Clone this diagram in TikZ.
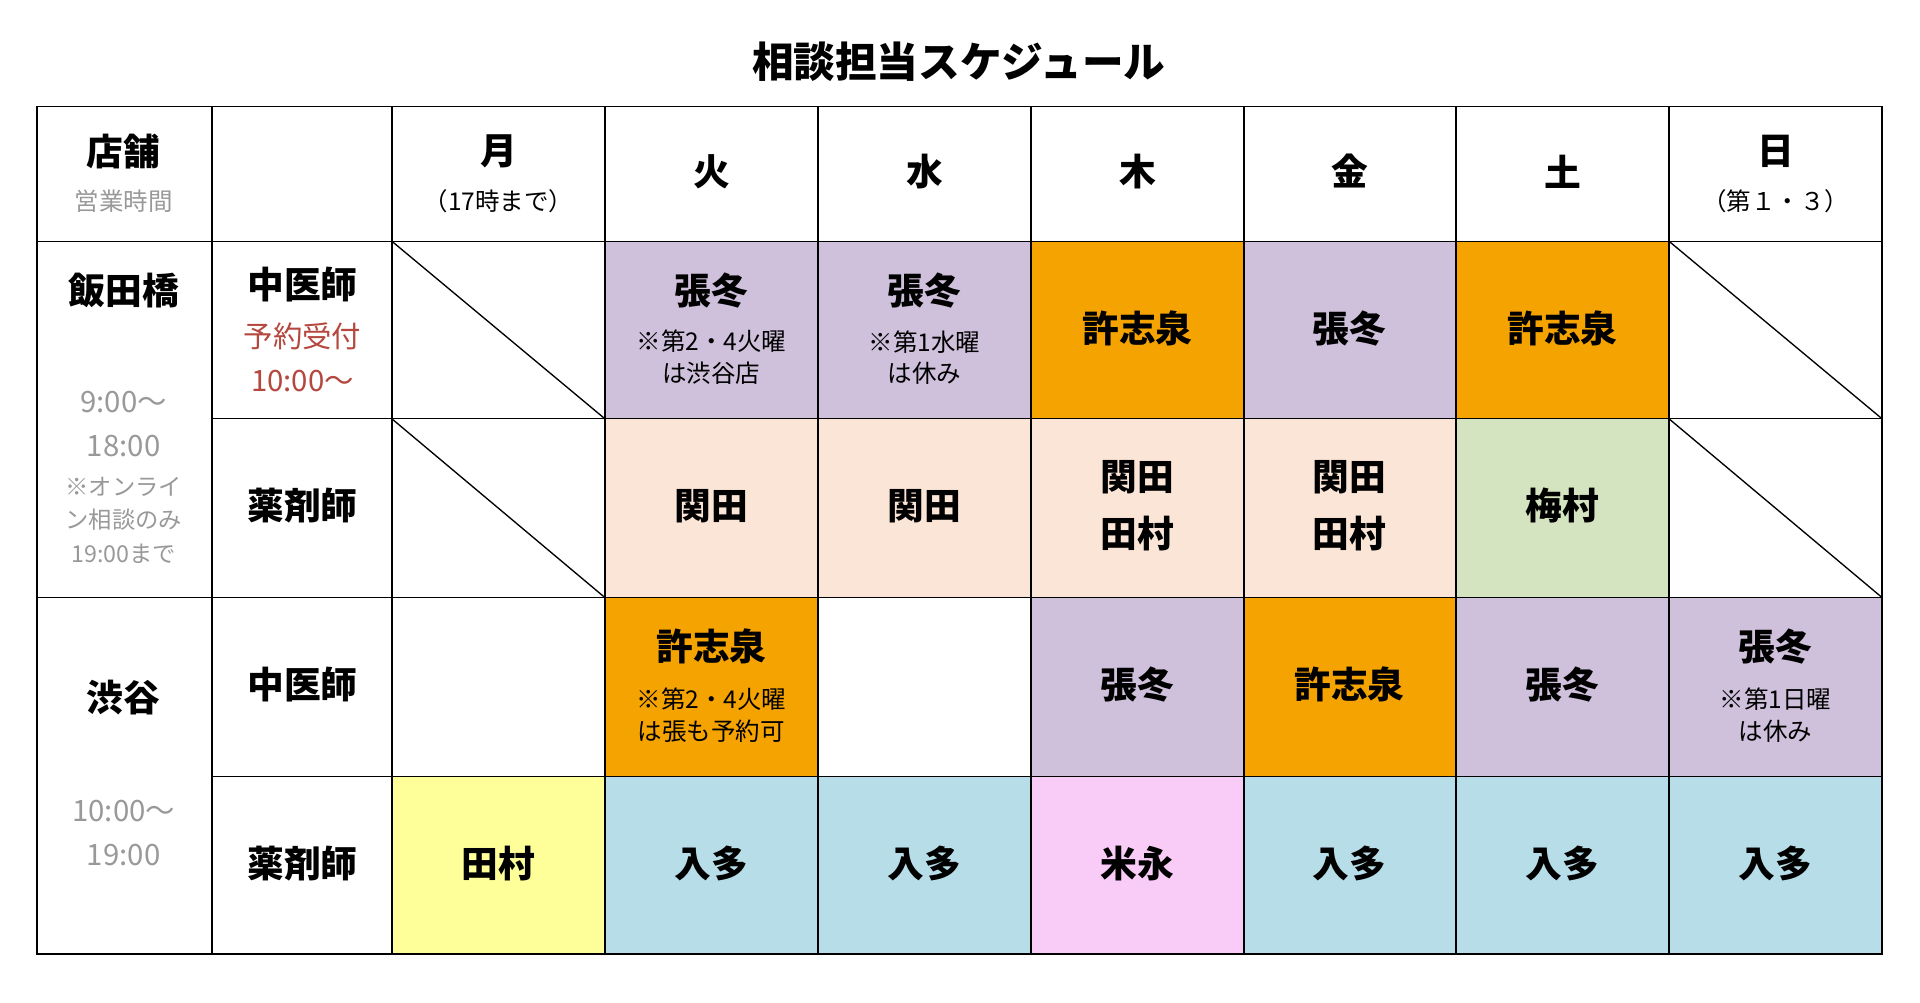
\documentclass[tikz,border=0pt]{standalone}
\usepackage{fontspec}
\setmainfont{Noto Sans CJK JP}
\definecolor{pur}{HTML}{CFC0DB}
\definecolor{org}{HTML}{F5A300}
\definecolor{pch}{HTML}{FBE5D6}
\definecolor{grn}{HTML}{D5E4C0}
\definecolor{blu}{HTML}{B7DDE8}
\definecolor{yel}{HTML}{FFFF99}
\definecolor{pnk}{HTML}{F9CCF7}
\definecolor{gry}{HTML}{999999}
\definecolor{red1}{HTML}{B5473F}
\begin{document}
\begin{tikzpicture}[x=1pt,y=-1pt,
  big/.style={font=\fontsize{30}{36}\selectfont\bfseries,align=center},
  sm/.style={font=\fontsize{20}{26}\selectfont,align=center},
  cellbox/.style={inner sep=0pt,align=center}]
\useasboundingbox (0,0) rectangle (1568,819);
\fill[white] (0,0) rectangle (1568,819);
\def\xs{{30,173,320,494,668,842,1016,1189,1363,1537}}
\def\ys{{87,197,342,488,634,779}}
% fills: \cf{col}{row}{color}
\newcommand\cf[3]{\pgfmathsetmacro\xa{\xs[#1]}\pgfmathsetmacro\xb{\xs[#1+1]}\pgfmathsetmacro\ya{\ys[#2]}\pgfmathsetmacro\yb{\ys[#2+1]}\fill[#3] (\xa,\ya) rectangle (\xb,\yb);}
\cf{3}{1}{pur}\cf{4}{1}{pur}\cf{5}{1}{org}\cf{6}{1}{pur}\cf{7}{1}{org}
\cf{3}{2}{pch}\cf{4}{2}{pch}\cf{5}{2}{pch}\cf{6}{2}{pch}\cf{7}{2}{grn}
\cf{3}{3}{org}\cf{5}{3}{pur}\cf{6}{3}{org}\cf{7}{3}{pur}\cf{8}{3}{pur}
\cf{2}{4}{yel}\cf{3}{4}{blu}\cf{4}{4}{blu}\cf{5}{4}{pnk}\cf{6}{4}{blu}\cf{7}{4}{blu}\cf{8}{4}{blu}
% grid
\draw[line width=1.3pt] (30,87) rectangle (1537,779);
\foreach \x in {173,320,494,668,842,1016,1189,1363} \draw[line width=1.1pt] (\x,87) -- (\x,779);
\draw[line width=1.1pt] (30,197) -- (1537,197);
\draw[line width=1.1pt] (30,488) -- (1537,488);
\draw[line width=1.1pt] (173,342) -- (1537,342);
\draw[line width=1.1pt] (173,634) -- (1537,634);
\draw[line width=1.1pt] (320,197) -- (494,342) (320,342) -- (494,488);
\draw[line width=1.1pt] (1363,197) -- (1537,342) (1363,342) -- (1537,488);
% title
\node[font=\fontsize{34}{40}\selectfont\bfseries] (title) at (783,50) {相談担当スケジュール};
% header
\node[big] (h0) at (101,124) {店舗};
\node[sm,text=gry] (h0b) at (101,164) {営業時間};
\node[big] (mon) at (407,124) {月};
\node[sm] (monb) at (407,164) {（17時まで）};
\node[big] (tue) at (581,140) {火};
\node[big] (wed) at (755,140) {水};
\node[big] (thu) at (929,140) {木};
\node[big] (fri) at (1102,140) {金};
\node[big] (sat) at (1276,140) {土};
\node[big] (sun) at (1450,124) {日};
\node[sm] (sunb) at (1450,164) {（第１・３）};
% store column
\node[big] (iida) at (101,237) {飯田橋};
\node[font=\fontsize{24}{36}\selectfont,text=gry,align=center] (iidat) at (101,346) {9:00～\\18:00};
\node[font=\fontsize{19}{27}\selectfont,text=gry,align=center] (iidao) at (101,425) {※オンライ\\ン相談のみ\\19:00まで};
\node[big] (shib) at (101,570) {渋谷};
\node[font=\fontsize{24}{36}\selectfont,text=gry,align=center] (shibt) at (101,680) {10:00～\\19:00};
% role column
\node[big] (r1) at (247,232) {中医師};
\node[font=\fontsize{24}{36}\selectfont,text=red1,align=center] (r1b) at (247,292) {予約受付\\10:00～};
\node[big] (r2) at (247,413) {薬剤師};
\node[big] (r3) at (247,559) {中医師};
\node[big] (r4) at (247,705) {薬剤師};
% row1
\node[big] (c31) at (581,237) {張冬};
\node[sm] (c31b) at (581,292) {※第2・4火曜\\は渋谷店};
\node[big] (c41) at (755,237) {張冬};
\node[sm] (c41b) at (755,292) {※第1水曜\\は休み};
\node[big] (c51) at (929,268) {許志泉};
\node[big] (c61) at (1102,268) {張冬};
\node[big] (c71) at (1276,268) {許志泉};
% row2
\node[big] (c32) at (581,413) {関田};
\node[big] (c42) at (755,413) {関田};
\node[big,font=\fontsize{30}{46}\selectfont\bfseries] (c52) at (929,413) {関田\\田村};
\node[big,font=\fontsize{30}{46}\selectfont\bfseries] (c62) at (1102,413) {関田\\田村};
\node[big] (c72) at (1276,413) {梅村};
% row3
\node[big] (c33) at (581,528) {許志泉};
\node[sm] (c33b) at (581,584) {※第2・4火曜\\は張も予約可};
\node[big] (c53) at (929,559) {張冬};
\node[big] (c63) at (1102,559) {許志泉};
\node[big] (c73) at (1276,559) {張冬};
\node[big] (c83) at (1450,528) {張冬};
\node[sm] (c83b) at (1450,584) {※第1日曜\\は休み};
% row4
\node[big] (c24) at (407,705) {田村};
\node[big] (c34) at (581,705) {入多};
\node[big] (c44) at (755,705) {入多};
\node[big] (c54) at (929,705) {米永};
\node[big] (c64) at (1102,705) {入多};
\node[big] (c74) at (1276,705) {入多};
\node[big] (c84) at (1450,705) {入多};
\end{tikzpicture}
\end{document}
